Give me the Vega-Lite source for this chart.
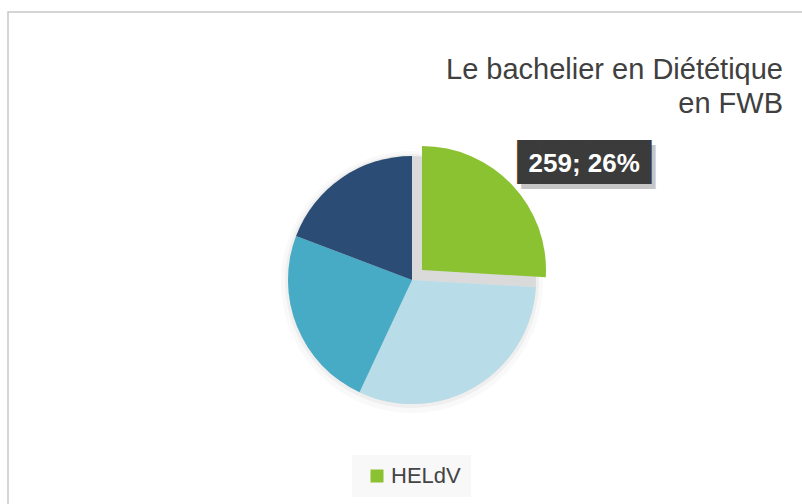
{
  "$schema": "https://vega.github.io/schema/vega-lite/v6.json",
  "autosize": "none",
  "width": 808,
  "height": 536,
  "padding": {"left": 8, "top": 12, "right": -14, "bottom": -44},
  "background": "white",
  "view": {"stroke": "#c8c8c8", "strokeWidth": 1.5, "fill": "white"},
  "title": {
    "text": ["Le bachelier en Diététique", "en FWB"],
    "anchor": "end",
    "orient": "top",
    "baseline": "alphabetic",
    "offset": -64,
    "dx": -33,
    "dy": 66,
    "font": "Liberation Sans",
    "fontSize": 29,
    "fontWeight": "normal",
    "lineHeight": 34,
    "color": "#404040"
  },
  "data": {
    "values": [
      {"school": "HELdV", "value": 259, "ord": 1, "label": "259; 26%"},
      {"school": "HELB", "value": 310, "ord": 2, "label": ""},
      {"school": "HEPL", "value": 238, "ord": 3, "label": ""},
      {"school": "Condorcet", "value": 192, "ord": 4, "label": ""}
    ]
  },
  "encoding": {
    "theta": {"field": "value", "type": "quantitative", "stack": true},
    "order": {"field": "ord", "type": "quantitative"}
  },
  "layer": [
    {
      "mark": {"type": "arc", "outerRadius": 131, "fill": "#000000", "opacity": 0.025, "yOffset": 2}
    },
    {
      "mark": {"type": "arc", "outerRadius": 127, "fill": "#000000", "opacity": 0.04, "yOffset": 1}
    },
    {
      "mark": {"type": "arc", "outerRadius": 124, "fill": "#dadada"}
    },
    {
      "mark": {"type": "arc", "outerRadius": 124},
      "encoding": {
        "color": {
          "field": "school",
          "type": "nominal",
          "scale": {"domain": ["HELdV", "HELB", "HEPL", "Condorcet"], "range": ["#8bc232", "#b8dde8", "#47abc5", "#2a4c75"]},
          "legend": {
            "values": ["HELdV"],
            "title": null,
            "orient": "none",
            "legendX": 344,
            "legendY": 443,
            "fillColor": "#f8f8f8",
            "padding": 10,
            "symbolType": "square",
            "symbolSize": 169,
            "symbolOffset": 4,
            "symbolStrokeWidth": 0,
            "labelFont": "Liberation Sans",
            "labelFontSize": 22,
            "labelColor": "#444444",
            "labelOffset": 3
          }
        },
        "opacity": {"condition": {"test": "datum.school === 'HELdV'", "value": 0}, "value": 1}
      }
    },
    {
      "mark": {"type": "arc", "outerRadius": 124, "xOffset": 10, "yOffset": -10},
      "encoding": {
        "color": {"field": "school", "type": "nominal"},
        "opacity": {"condition": {"test": "datum.school === 'HELdV'", "value": 1}, "value": 0}
      }
    },
    {
      "mark": {"type": "text", "radius": 190, "dx": 38, "dy": 19, "font": "DejaVu Sans Mono", "fontSize": 37, "color": "#000000", "opacity": 0.22, "baseline": "middle", "align": "center"},
      "encoding": {
        "text": {"condition": {"test": "datum.school === 'HELdV'", "value": "██████"}, "value": ""}
      }
    },
    {
      "mark": {"type": "text", "radius": 190, "dx": 34, "dy": 14, "font": "DejaVu Sans Mono", "fontSize": 37, "color": "#3b3b3b", "baseline": "middle", "align": "center"},
      "encoding": {
        "text": {"condition": {"test": "datum.school === 'HELdV'", "value": "██████"}, "value": ""}
      }
    },
    {
      "mark": {"type": "text", "radius": 190, "dx": 34, "dy": 14, "font": "Liberation Sans", "fontSize": 26, "fontWeight": "bold", "color": "#ffffff", "baseline": "middle", "align": "center"},
      "encoding": {
        "text": {"field": "label", "type": "nominal"}
      }
    }
  ]
}
